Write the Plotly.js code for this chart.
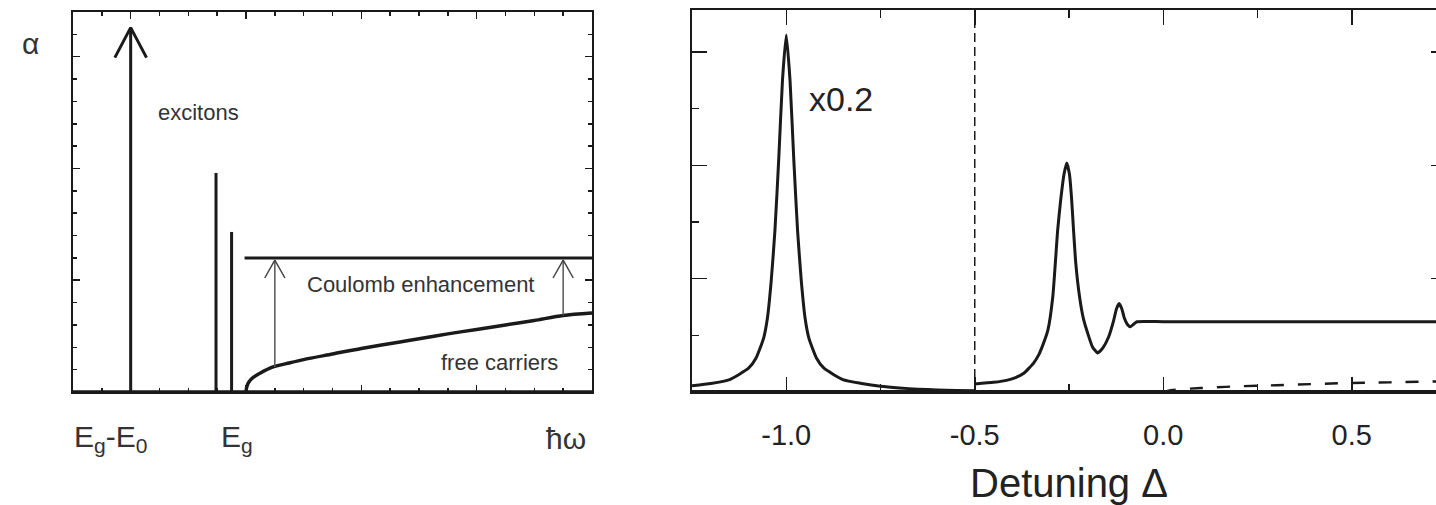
<!DOCTYPE html>
<html><head><meta charset="utf-8">
<script src="https://cdn.plot.ly/plotly-3.0.1.min.js"></script>
<style>html,body{margin:0;padding:0;overflow:hidden;background:#fff;width:1436px;height:505px}#chart{width:1460px;height:505px}</style>
</head><body><div id="chart"></div>
<script>
// ---------- Left panel (schematic, arbitrary units) ----------
const excitonX   = [2, 4.96, 5.5];
const excitonTop = [16.3, 9.8, 7.16];
const freeX = [6, 6.03, 6.1, 6.25, 6.5, 6.94, 7.5, 8, 9, 10, 11.34, 12, 13, 14, 15, 16, 17, 18];
const freeY = [0, 0.25, 0.45, 0.65, 0.85, 1.12, 1.3, 1.45, 1.7, 1.95, 2.24, 2.38, 2.6, 2.8, 3.0, 3.2, 3.42, 3.53];
const coulombLevel = 6.0;
const coulombStart = 5.95;
const coulombEnd = 18;
const coulombArrowX = [7, 17];
const coulombArrowBase = [1.12, 3.42];
const leftLabels = ['E<sub>g</sub>-E<sub>0</sub>', 'E<sub>g</sub>', 'ħω'];
const leftLabelPos = [1.3, 5.7, 17.1];

// ---------- Right panel (Detuning) ----------
const peakX = [-1.25, -1.2, -1.15, -1.1, -1.08, -1.06, -1.05, -1.04, -1.03, -1.02, -1.01, -1.0,
               -0.99, -0.98, -0.97, -0.96, -0.95, -0.94, -0.92, -0.9, -0.85, -0.8, -0.75, -0.7, -0.65, -0.6, -0.55, -0.5];
const peakY = [0.11, 0.15, 0.22, 0.42, 0.6, 0.95, 1.3, 1.95, 2.85, 4.1, 5.5, 6.3,
               5.5, 4.1, 2.85, 1.95, 1.3, 0.95, 0.6, 0.42, 0.22, 0.15, 0.1, 0.07, 0.05, 0.035, 0.025, 0.02];
const mainX = [-0.5, -0.45, -0.413, -0.39, -0.37, -0.344, -0.33, -0.321, -0.306, -0.293, -0.28, -0.272, -0.263, -0.256,
               -0.249, -0.243, -0.238, -0.232, -0.222, -0.212, -0.201, -0.188, -0.174, -0.16, -0.145, -0.132, -0.124,
               -0.117, -0.11, -0.103, -0.095, -0.087, -0.078, -0.07, 0.0, 0.25, 0.5, 0.75];
const mainY = [0.14, 0.17, 0.21, 0.26, 0.33, 0.51, 0.66, 0.8, 1.09, 1.68, 2.86, 3.39, 3.85, 4.04,
               3.85, 3.4, 2.86, 2.27, 1.68, 1.3, 1.05, 0.8, 0.69, 0.78, 0.97, 1.25, 1.47,
               1.56, 1.47, 1.3, 1.19, 1.15, 1.2, 1.24, 1.24, 1.24, 1.24, 1.24];
const freeDetX = [0, 0.02, 0.05, 0.1, 0.2, 0.3, 0.4, 0.5, 0.6, 0.75];
const freeDetY = [0, 0.03, 0.05, 0.07, 0.1, 0.12, 0.14, 0.16, 0.17, 0.19];
const splitAt = -0.5;
const xTickVals = [-1.0, -0.5, 0.0, 0.5];
const xTickText = ['-1.0', '-0.5', '0.0', '0.5'];

// ---------- figure ----------
const W = 1460, H = 505;
const fx = p => p / W;
const fy = p => (H - p) / H;
const FONT = '"Liberation Sans", Arial, Helvetica, sans-serif';
const INK = '#1a1a1a';

const traces = [];
function seg(x, y, w, c, extra) {
  traces.push(Object.assign({type:'scatter', mode:'lines', x:x, y:y, hoverinfo:'skip',
    line:{color:c || INK, width:w}, cliponaxis:false}, extra || {}));
}
// excitons
excitonX.forEach((x, i) => seg([x, x], [0, excitonTop[i]], 3));
// big arrowhead on main exciton
(function(){ const tx = excitonX[0], ty = excitonTop[0];
  seg([tx - 0.55, tx, tx + 0.55], [ty - 1.34, ty, ty - 1.34], 3); })();
// free carriers
seg(freeX, freeY, 3.5, INK, {line:{color:INK, width:3.5, shape:'spline', smoothing:0.8}});
// Coulomb-enhanced level
seg([coulombStart, coulombEnd], [coulombLevel, coulombLevel], 3);
// Coulomb arrows
coulombArrowX.forEach((x, i) => {
  seg([x, x], [coulombArrowBase[i], coulombLevel - 0.1], 1.5, '#555');
  seg([x - 0.35, x, x + 0.35], [coulombLevel - 0.9, coulombLevel - 0.1, coulombLevel - 0.9], 1.5, '#444');
});

// right panel
const r = {xaxis:'x2', yaxis:'y2'};
seg(peakX, peakY, 3, INK, Object.assign({line:{color:INK, width:3, shape:'spline', smoothing:0.5}}, r));
seg(mainX, mainY, 3, INK, Object.assign({line:{color:INK, width:3, shape:'spline', smoothing:0.5}}, r));
seg(freeDetX, freeDetY, 2.4, INK, Object.assign({line:{color:INK, width:2.4, dash:'13px,14px', shape:'spline'}}, r));

const axCommon = {showgrid:false, zeroline:false, showline:true, linewidth:2, linecolor:INK,
  mirror:'ticks', ticks:'inside', tickcolor:INK, tickwidth:1.5, fixedrange:true};

function note(text, xref, yref, x, y, size, color) {
  return {text:text, xref:xref, yref:yref, x:x, y:y, xanchor:'center', yanchor:'middle', showarrow:false,
    font:{size:size, color:color || '#333', family:FONT}};
}

const layout = {
  width: W, height: H, margin:{l:0, r:0, t:0, b:0},
  paper_bgcolor:'#fff', plot_bgcolor:'#fff', showlegend:false, hovermode:false,
  font:{family:FONT, color:'#222'},
  xaxis: Object.assign({}, axCommon, {domain:[fx(73), fx(592)], anchor:'y', range:[0, 18],
    tick0:2, dtick:4, ticklen:7, showticklabels:false,
    minor:{tick0:0, dtick:1, ticks:'inside', ticklen:4, tickwidth:1.5, tickcolor:INK}}),
  yaxis: Object.assign({}, axCommon, {domain:[fy(392), fy(12)], anchor:'x', range:[0, 17],
    tick0:0, dtick:5, ticklen:7, showticklabels:false,
    minor:{tick0:0, dtick:1, ticks:'inside', ticklen:4, tickwidth:1.5, tickcolor:INK}}),
  xaxis2: Object.assign({}, axCommon, {domain:[fx(692), fx(1446)], anchor:'y2', range:[-1.25, 0.75],
    tickmode:'array', tickvals:xTickVals, ticktext:xTickText, ticklen:15,
    tickfont:{size:29, color:'#222', family:FONT}, ticklabelstandoff:16,
    minor:{tick0:0, dtick:0.25, ticks:'inside', ticklen:8, tickwidth:1.5, tickcolor:INK}}),
  yaxis2: Object.assign({}, axCommon, {domain:[fy(392), fy(10)], anchor:'x2', range:[0, 6.74],
    tick0:0, dtick:2, ticklen:15, showticklabels:false,
    minor:{tick0:0, dtick:1, ticks:'inside', ticklen:7, tickwidth:1.5, tickcolor:INK}}),
  shapes: [
    {type:'line', xref:'x', yref:'y', x0:0, x1:18, y0:0, y1:0, line:{color:INK, width:3.5}},
    {type:'line', xref:'x2', yref:'y2', x0:-1.25, x1:0.75, y0:0, y1:0, line:{color:INK, width:4}},
    {type:'line', xref:'x2', yref:'y2 domain', x0:splitAt, x1:splitAt, y0:0, y1:1,
      line:{color:INK, width:1.5, dash:'9px,5px'}}
  ],
  annotations: [
    note('α', 'paper', 'paper', fx(30), fy(44), 30, '#333'),
    note('excitons', 'x', 'y', 4.34, 12.5, 22, '#333'),
    note('Coulomb enhancement', 'x', 'y', 12.04, 4.79, 22, '#333'),
    note('free carriers', 'x', 'y', 14.78, 1.34, 22, '#333'),
    note('x0.2', 'x2', 'y2', -0.855, 5.17, 34, '#222'),
    note('Detuning Δ', 'paper', 'paper', fx(1069), fy(483), 40, '#222')
  ].concat(leftLabels.map((t, i) => note(t, 'x', 'paper', leftLabelPos[i], fy(438), 30, '#333')))
};

Plotly.newPlot('chart', traces, layout, {staticPlot:true, displayModeBar:false});
</script></body></html>
